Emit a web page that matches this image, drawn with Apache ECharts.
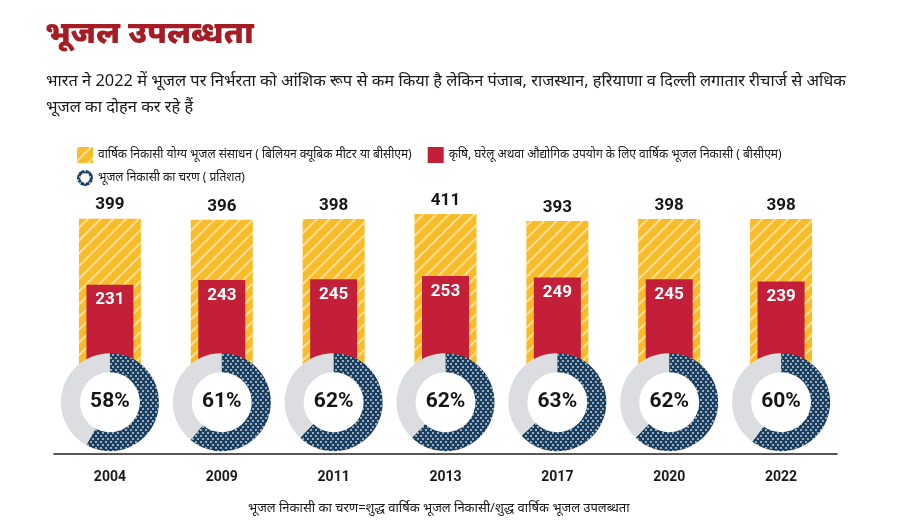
<!DOCTYPE html>
<html>
<head>
<meta charset="utf-8">
<script src="https://cdn.jsdelivr.net/npm/echarts@6/dist/echarts.min.js"></script>
<style>
  html, body { margin: 0; padding: 0; background: #fff; }
  #main { width: 917px; height: 532px; }
</style>
</head>
<body>
<div id="main"></div>
<script>
// data
const years = ['2004', '2009', '2011', '2013', '2017', '2020', '2022']
const rechargeable = [399, 396, 398, 411, 393, 398, 398] // BCM
const extraction = [231, 243, 245, 253, 249, 245, 239] // BCM
const stage = [58, 61, 62, 62, 63, 62, 60] // %

const nameRes = 'वार्षिक निकासी योग्य भूजल संसाधन ( बिलियन क्यूबिक मीटर या बीसीएम)'
const nameExt = 'कृषि, घरेलू अथवा औद्योगिक उपयोग के लिए वार्षिक भूजल निकासी ( बीसीएम)'
const nameStage = 'भूजल निकासी का चरण ( प्रतिशत)'

const DONUT_Y = -68 // value on y axis where the donut rows sit
const FONT_HI = "'Noto Sans', 'Noto Sans Devanagari', sans-serif"
const FONT_NUM = 'Roboto, sans-serif'

const stripe = {
  symbol: 'rect',
  dashArrayX: [1, 0],
  dashArrayY: [2, 7],
  rotation: -Math.PI / 4,
  color: 'rgba(255, 236, 180, 0.75)'
}
const dots = {
  symbol: 'circle',
  symbolSize: 0.9,
  dashArrayX: [[1.5, 2.5], [0, 2, 1.5, 0.5]],
  dashArrayY: [1.5, 1],
  color: 'rgba(255,255,255,0.85)'
}

const chart = echarts.init(document.getElementById('main'))

const option = {
  backgroundColor: '#fff',
  animation: false,
  title: [
    {
      text: 'भूजल उपलब्धता',
      left: 40,
      top: 14,
      textStyle: { fontFamily: FONT_HI, fontSize: 31, fontWeight: 900, color: '#a51c24' }
    },
    {
      text: 'भारत ने 2022 में भूजल पर निर्भरता को आंशिक रूप से कम किया है लेकिन पंजाब, राजस्थान, हरियाणा व दिल्ली लगातार रीचार्ज से अधिक\nभूजल का दोहन कर रहे हैं',
      left: 41,
      top: 63,
      textStyle: { fontFamily: FONT_HI, fontSize: 16.4, fontWeight: 'normal', color: '#1a1a1a', lineHeight: 26 }
    },
    {
      text: 'भूजल निकासी का चरण=शुद्ध वार्षिक भूजल निकासी/शुद्ध वार्षिक भूजल उपलब्धता',
      left: 243,
      top: 497,
      textStyle: { fontFamily: FONT_HI, fontSize: 13, fontWeight: 'normal', color: '#1a1a1a' }
    }
  ],
  legend: [
    {
      data: [nameRes, nameExt],
      left: 72,
      top: 142,
      itemWidth: 16,
      itemHeight: 16,
      itemGap: 16,
      icon: 'rect',
      textStyle: { fontFamily: FONT_HI, fontSize: 12, color: '#1a1a1a' },
      selectedMode: false
    },
    {
      data: [nameStage],
      left: 72,
      top: 165,
      itemWidth: 16,
      itemHeight: 16,
      icon: 'path://M10,0 A10,10 0 1 1 9.99,0 Z M10,4 A6,6 0 1 0 10.01,4 Z',
      textStyle: { fontFamily: FONT_HI, fontSize: 12, color: '#1a1a1a' },
      selectedMode: false
    }
  ],
  grid: { left: 54, right: 80, top: 179, bottom: 78 },
  xAxis: [
    {
      type: 'category',
      data: years,
      axisLine: { onZero: false, lineStyle: { color: '#222', width: 1.5 } },
      axisTick: { show: false },
      axisLabel: { margin: 16, fontFamily: FONT_NUM, fontSize: 14, fontWeight: 'bold', color: '#1a1a1a' }
    },
    { type: 'category', data: years, show: false }
  ],
  yAxis: {
    type: 'value',
    min: -200,
    max: 500,
    show: false,
    splitLine: { show: false }
  },
  series: []
}

const barSeries = [
  {
    id: 'res',
    name: nameRes,
    type: 'bar',
    xAxisIndex: 0,
    barWidth: 62,
    data: rechargeable,
    itemStyle: { color: '#f8bc2a', decal: stripe },
    label: {
      show: true,
      position: 'top',
      distance: 5,
      fontFamily: FONT_NUM,
      fontSize: 17,
      fontWeight: 'bold',
      color: '#151515'
    }
  },
  {
    id: 'ext',
    name: nameExt,
    type: 'bar',
    xAxisIndex: 1,
    barWidth: 47,
    data: extraction,
    itemStyle: { color: '#c41f38' },
    label: {
      show: true,
      position: 'insideTop',
      distance: 7,
      fontFamily: FONT_NUM,
      fontSize: 17,
      fontWeight: 'bold',
      color: '#fff'
    }
  }
]

option.series = barSeries
chart.setOption(option)

// donuts: placed on the category centres through the axis scales
const pieSeries = []
years.forEach(function(y, i) {
  const c = chart.convertToPixel({ xAxisIndex: 0, yAxisIndex: 0 }, [y, DONUT_Y])
  pieSeries.push({
    id: 'bg' + i,
    type: 'pie',
    silent: true,
    center: c,
    radius: [0, 31],
    label: { show: false },
    data: [{ value: 1, name: 'bg', itemStyle: { color: '#fff' } }]
  })
  pieSeries.push({
    id: 'stage' + i,
    type: 'pie',
    center: c,
    radius: [30, 49],
    startAngle: 90,
    clockwise: true,
    avoidLabelOverlap: false,
    data: [
      {
        value: stage[i],
        name: nameStage,
        itemStyle: { color: '#1b3f61', decal: dots },
        label: {
          show: true,
          position: 'center',
          formatter: stage[i] + '%',
          fontFamily: FONT_NUM,
          fontSize: 21,
          fontWeight: 'bold',
          color: '#151515'
        }
      },
      {
        value: 100 - stage[i],
        name: 'rest',
        itemStyle: { color: '#dcdde0' },
        label: { show: false }
      }
    ],
    labelLine: { show: false }
  })
})

chart.setOption({ series: barSeries.concat(pieSeries) })
</script>
</body>
</html>
